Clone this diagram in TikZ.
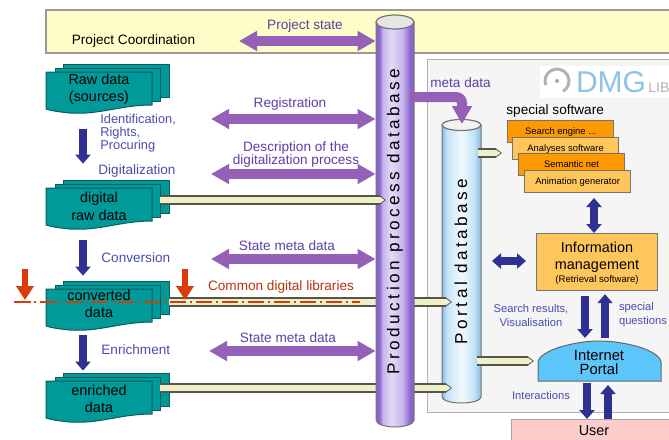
\documentclass[tikz,border=0pt]{standalone}
\usepackage{fontspec}
\setmainfont{Liberation Sans}
\newfontfamily\spacedfont[LetterSpace=20]{Liberation Sans}
\usetikzlibrary{arrows.meta}
\usetikzlibrary{calc}

\definecolor{teal1}{HTML}{009A9A}
\definecolor{tealedge}{HTML}{0B5C5C}
\definecolor{arrpurple}{HTML}{9460B8}
\definecolor{txtpurple}{HTML}{5E3FA6}
\definecolor{arrblue}{HTML}{2E3192}
\definecolor{txtblue}{HTML}{4A4CB0}
\definecolor{arrred}{HTML}{D83C08}
\definecolor{tubegray}{HTML}{55554C}
\definecolor{tubecream}{HTML}{EFEFC8}
\definecolor{softorange}{HTML}{FFC65C}
\definecolor{hardorange}{HTML}{FF9900}
\definecolor{paleyellow}{HTML}{FEFDC8}
\definecolor{portalblue}{HTML}{5CC6FA}
\definecolor{logoblue}{HTML}{8CC4E4}
\definecolor{prodA}{HTML}{8A63CC}
\definecolor{prodB}{HTML}{C6B4EE}
\definecolor{prodC}{HTML}{E2DBF6}
\definecolor{portA}{HTML}{86BCE6}
\definecolor{portB}{HTML}{C4E3F7}
\definecolor{portC}{HTML}{F2F9FD}

\pgfdeclarehorizontalshading{prodshade}{100bp}{
    color(0bp)=(prodA); color(25bp)=(prodA); color(29bp)=(prodA);
    color(34bp)=(prodB); color(45bp)=(prodC); color(60bp)=(prodB);
    color(70bp)=(prodA); color(75bp)=(prodA); color(100bp)=(prodA)}
\pgfdeclarehorizontalshading{portalshade}{100bp}{
    color(0bp)=(portA); color(25bp)=(portA); color(31bp)=(portB);
    color(50bp)=(portC); color(66bp)=(portB); color(75bp)=(portA);
    color(100bp)=(portA)}

\tikzset{
    lbl/.style={inner sep=0pt, align=center, font=\fontsize{6.8}{6.6}\selectfont},
    lblpurple/.style={lbl, text=txtpurple},
    lblblue/.style={lbl, text=txtblue},
    lblsmall/.style={lbl, text=txtblue, font=\fontsize{5.6}{7}\selectfont},
    softbox/.style={draw=black!55, line width=0.6pt, fill=softorange, inner sep=0pt,
        minimum width=53pt, minimum height=11pt, font=\fontsize{4.7}{6}\selectfont},
    hardbox/.style={softbox, fill=hardorange},
    purplearr/.style={line width=5pt, draw=arrpurple, >={Triangle[width=9.5pt,length=9pt]}},
    bluearr/.style={line width=3.6pt, draw=arrblue, >={Triangle[width=7.5pt,length=4.5pt]}},
    redarr/.style={line width=2.6pt, draw=arrred, >={Triangle[width=8.5pt,length=7pt]}},
    reddash/.style={line width=0.9pt, draw=arrred, dash pattern=on 8pt off 2pt on 1pt off 2pt},
    sheet/.style={draw=tealedge, line width=0.5pt, fill=teal1},
}

\newcommand{\datastack}[5]{
    \draw[sheet] (63,#2) rectangle (169,#2+33);
    \draw[sheet] (55,#2+4) rectangle (160,#2+37);
    \draw[sheet] (46,#2+8) -- (152,#2+8) -- (152,#2+41)
        .. controls (120,#2+41) and (100,#2+51) .. (70,#2+49)
        .. controls (60,#2+48) and (52,#2+47) .. (46,#2+45) -- cycle;
    \node[inner sep=0pt, align=center, minimum width=53pt, minimum height=20pt,
        font=\fontsize{7.2}{#5}\selectfont] (#1) at (99,#2+#3) {#4};
}

\newcommand{\tubearrow}[2]{
    \draw[line width=5pt, draw=tubegray, -{Triangle[width=5pt,length=3.5pt]}] #1 -- #2;
    \draw[line width=3.2pt, draw=tubecream, shorten >=0.7pt, -{Triangle[width=3.2pt,length=2.4pt]}] #1 -- #2;
}

\begin{document}
\begin{tikzpicture}[x=0.5pt, y=-0.5pt]
    \useasboundingbox (0,0) rectangle (669,439);
    \clip (0,0) rectangle (669,439);

    \node[draw=black!40, line width=0.8pt, fill=paleyellow, inner sep=0pt, minimum width=320pt,
        minimum height=21.5pt, anchor=north west] (coord) at (45,9) {};
    \node[lbl] (coordlbl) at (133.5,41) {Project Coordination};

    \node[draw=black!30, line width=0.6pt, fill=black!4, inner sep=0pt, minimum width=130pt,
        minimum height=176.5pt, anchor=north west] (panel) at (427,59) {};

    \node[fill=white, inner sep=0pt, minimum width=65pt, minimum height=16pt, anchor=north west] (logo) at (540,66) {};
    \draw[black!30, line width=1.5pt] (557,81) ++(60:12) arc (60:-200:12);
    \fill[black!35] (557,81) circle (2);
    \node[inner sep=0pt, text=logoblue, font=\fontsize{15}{15}\selectfont] (dmg) at (611,82) {DMG};
    \node[inner sep=0pt, anchor=west, text=black!30, font=\fontsize{7}{7}\selectfont] (lib) at (648,88) {LIB};

    \datastack{rawdata}{64}{25.5}{Raw data\\(sources)}{8.7}
    \datastack{digdata}{180}{26}{digital\\raw data}{9}
    \datastack{condata}{281}{22.5}{converted\\data}{8.5}
    \datastack{enrdata}{373}{25.5}{enriched\\data}{8.5}

    \node[inner sep=0pt, minimum width=19.5pt, minimum height=142pt] (portaldb) at (461.5,261.5) {};
    \shade[shading=portalshade] (442,125) -- (442,397) arc (180:0:19.5 and 6) -- (481,125) -- cycle;
    \draw[black!55, line width=0.5pt] (442,125) -- (442,397) arc (180:0:19.5 and 6) -- (481,125);
    \draw[black!55, line width=0.6pt, fill=black!5] (461.5,125) ellipse (19.5 and 5.5);
    \node[rotate=90, inner sep=0pt, font=\fontsize{8.6}{9}\spacedfont] (portallbl) at (461,261.5) {Portal database};

    \tubearrow{([shift={(17,-1.5)}]condata.east)}{(452,302)}
    \tubearrow{([shift={(8,-10.5)}]enrdata.east)}{(452,388)}

    \node[inner sep=0pt, minimum width=19pt, minimum height=200pt] (proddb) at (395,221) {};
    \shade[shading=prodshade] (376,22) -- (376,420) arc (180:0:19 and 7) -- (414,22) -- cycle;
    \draw[black!55, line width=0.5pt] (376,22) -- (376,420) arc (180:0:19 and 7) -- (414,22);
    \draw[black!55, line width=0.6pt, fill=black!10] (395,22) ellipse (19 and 7);
    \node[rotate=90, inner sep=0pt, font=\fontsize{8.6}{9}\spacedfont] (prodlbl) at (395,221.5) {Production process database};

    \tubearrow{([shift={(8,-6)}]digdata.east)}{(386,200)}

    \coordinate (psleft) at (239,41);
    \coordinate (regleft) at (211,119);
    \coordinate (descleft) at (211,174);
    \coordinate (stateleft) at (211,259);
    \coordinate (enrleft) at (209,351);
    \foreach \p in {psleft, regleft, descleft, stateleft, enrleft}
        \draw[purplearr, <->] (\p) -- (\p -| proddb.west);

    \node[lblpurple] (pslbl) at (305,26) {Project state};
    \node[lblpurple] (reglbl) at (290,104) {Registration};
    \node[lblpurple] (desclbl) at (296,154.5) {Description of the\\digitalization process};
    \node[lblpurple] (statelbl) at (287,246) {State meta data};
    \node[lblpurple] (enrlbl) at (288,338) {State meta data};

    \draw[bluearr, ->] ([shift={(-16,19.5)}]rawdata.south) -- ([shift={(-16,-22)}]digdata.north);
    \draw[bluearr, ->] ([shift={(-16,14)}]digdata.south) -- ([shift={(-16,-7.5)}]condata.north);
    \draw[bluearr, ->] ([shift={(-16,11.5)}]condata.south) -- ([shift={(-16,-7.5)}]enrdata.north);

    \node[lblblue, align=left, anchor=north west, font=\fontsize{6.4}{6.5}\selectfont] (idlbl) at (100,114) {Identification,\\Rights,\\Procuring};
    \node[lblblue, anchor=west] (diglbl) at (98,171) {Digitalization};
    \node[lblblue, anchor=west] (convlbl) at (101,258) {Conversion};
    \node[lblblue, anchor=west] (enrichlbl) at (101,350) {Enrichment};

    \coordinate (cutleft) at (25,269);
    \coordinate (cutmid) at (185,269);
    \coordinate (cutstart) at (14,302);
    \coordinate (cutend) at (360,302);
    \draw[redarr, ->] (cutleft) -- ++(0,31);
    \draw[redarr, ->] (cutmid) -- ++(0,31);
    \draw[reddash] (cutstart) -- (cutend);
    \draw[arrred, line width=0.9pt] (cutstart) -- ++(17,0);
    \node[lbl, text=arrred!85!black] (comlbl) at (281,287) {Common digital libraries};

    \node[lblpurple] (metalbl) at (460.5,83) {meta data};
    \coordinate (metastart) at (410,97);
    \coordinate (metaend) at (462,124);
    \draw[purplearr, rounded corners=3pt] (metastart) -- (462,97) -- (462,108);
    \draw[purplearr, ->] (462,104) -- (metaend);

    \node[lbl, anchor=west] (softlbl) at (506,111) {special software};
    \node[hardbox, anchor=north west] (search) at (507,120) {Search engine ...};
    \node[softbox, anchor=north west] (analyses) at (512,137) {Analyses software};
    \node[hardbox, anchor=north west] (semantic) at (518,153) {Semantic net};
    \node[softbox, anchor=north west] (animation) at (524,170) {Animation generator};

    \coordinate (portalsoft) at (478,153);
    \tubearrow{(portalsoft)}{(502,153)}

    \node[draw=black!55, line width=0.6pt, fill=softorange, inner sep=0pt, minimum width=60.5pt, minimum height=28.5pt,
        anchor=north west] (infom) at (536,233) {};
    \node[lbl, font=\fontsize{7.2}{8.5}\selectfont] (infolbl) at (597,257) {Information\\management};
    \node[lbl, font=\fontsize{4.8}{5}\selectfont] (retrlbl) at (597,280) {(Retrieval software)};

    \coordinate (hubtop) at (594,198);
    \draw[bluearr, <->] (hubtop) -- (hubtop |- infom.north);
    \coordinate (hubleft) at (492,261);
    \draw[bluearr, <->] (hubleft) -- ++(34,0);

    \draw[draw=black!60, line width=0.5pt, fill=portalblue] (538,381) .. controls (538,374) and (538,368) .. (538,362)
        .. controls (540,350) and (575,341) .. (599,341) .. controls (625,341) and (659,350) .. (661,362) -- (661,381) -- cycle;
    \node[lbl, font=\fontsize{7.4}{7}\selectfont] (iportal) at (599,362) {Internet\\Portal};

    \coordinate (srchend) at (585,338);
    \coordinate (specstart) at (605,338);
    \draw[bluearr, ->] (srchend |- infom.south) ++(0,5) -- (srchend);
    \draw[bluearr, ->] (specstart) -- ([yshift=-1.5pt]specstart |- infom.south);
    \node[lblsmall] (srchlbl) at (531,315) {Search results,\\Visualisation};
    \node[lblsmall, align=left] (speclbl) at (643,315) {special\\questions};

    \tubearrow{(477,361)}{(534,361)}

    \node[draw=black!35, line width=0.6pt, fill=red!20, inner sep=0pt, minimum width=85pt, minimum height=12pt,
        anchor=north west] (user) at (511,419) {};
    \node[lbl, font=\fontsize{7.2}{9}\selectfont] (userlbl) at (594,431) {User};
    \coordinate (intdown) at (587,383);
    \coordinate (intup) at (608,385);
    \draw[bluearr, ->] (intdown) -- (intdown |- user.north);
    \draw[bluearr, ->] (intup |- user.north) -- (intup);
    \node[lblsmall] (interlbl) at (541,395) {Interactions};
\end{tikzpicture}
\end{document}
